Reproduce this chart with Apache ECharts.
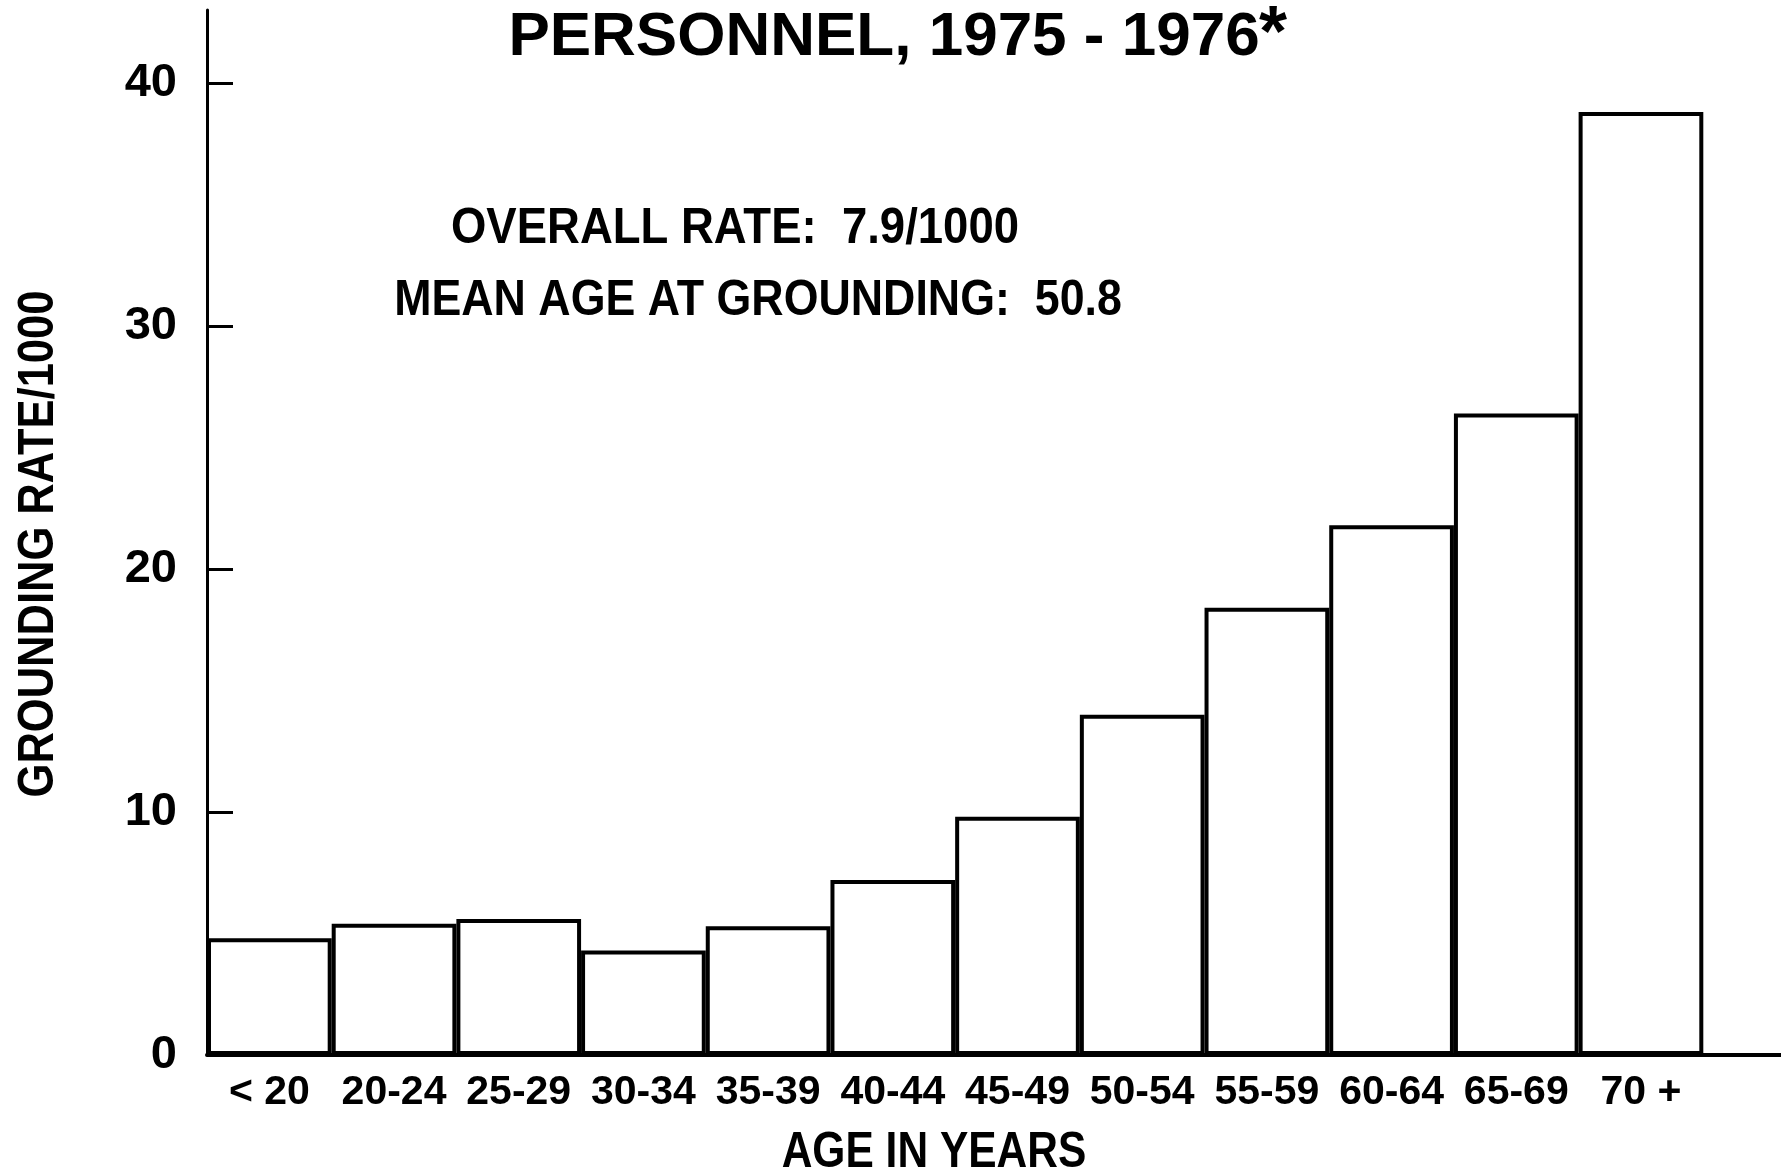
<!DOCTYPE html>
<html>
<head>
<meta charset="utf-8">
<script src="https://cdn.jsdelivr.net/npm/echarts@6/dist/echarts.min.js"></script>
<style>
html,body{margin:0;padding:0;background:#fff;}
#chart{width:1781px;height:1171px;}
</style>
</head>
<body>
<div id="chart"></div>
<script>
// ---- data ----
const ageGroups = ['< 20', '20-24', '25-29', '30-34', '35-39', '40-44', '45-49', '50-54', '55-59', '60-64', '65-69', '70 +', ''];
const groundingRate = [4.8, 5.4, 5.6, 4.3, 5.3, 7.2, 9.8, 14.0, 18.4, 21.8, 26.4, 38.8, null];
const yTickValues = [0, 10, 20, 30, 40];
const titleText = 'PERSONNEL, 1975 - 1976';
const noteLines = ['OVERALL RATE:  7.9/1000', 'MEAN AGE AT GROUNDING:  50.8'];
const xName = 'AGE IN YEARS';
const yName = 'GROUNDING RATE/1000';

const FONT = '"Liberation Sans", Arial, sans-serif';

const chart = echarts.init(document.getElementById('chart'), null, {renderer: 'canvas'});
chart.setOption({
  backgroundColor: '#fff',
  animation: false,
  grid: {left: 207, width: 1621, top: 10, bottom: 116, containLabel: false, outerBoundsMode: 'none'},
  xAxis: {
    type: 'category',
    data: ageGroups,
    boundaryGap: true,
    axisLine: {show: true, lineStyle: {color: '#000', width: 4}},
    axisTick: {show: false},
    axisLabel: {
      color: '#000', fontFamily: FONT, fontWeight: 'bold', fontSize: 41,
      margin: 17, interval: 0
    },
    splitLine: {show: false}
  },
  yAxis: {
    type: 'value',
    min: 0, max: 43, interval: 10,
    axisLine: {show: true, lineStyle: {color: '#000', width: 3}},
    axisTick: {show: true, inside: true, length: 26, customValues: yTickValues, lineStyle: {color: '#000', width: 3}},
    axisLabel: {
      color: '#000', fontFamily: FONT, fontWeight: 'bold', fontSize: 47,
      margin: 30, customValues: yTickValues
    },
    splitLine: {show: false}
  },
  graphic: [
    {type: 'text', x: 884, y: 38, style: {text: titleText, fill: '#000', font: 'bold 62px ' + FONT, textAlign: 'center', textVerticalAlign: 'middle'}},
    {type: 'text', x: 1273, y: 36, style: {text: '*', fill: '#000', font: 'bold 72px ' + FONT, textAlign: 'center', textVerticalAlign: 'middle'}},
    {type: 'text', x: 735, y: 229, scaleX: 0.91, style: {text: noteLines[0], fill: '#000', font: 'bold 50px ' + FONT, textAlign: 'center', textVerticalAlign: 'middle'}},
    {type: 'text', x: 758, y: 301, scaleX: 0.895, style: {text: noteLines[1], fill: '#000', font: 'bold 50px ' + FONT, textAlign: 'center', textVerticalAlign: 'middle'}},
    {type: 'text', x: 934, y: 1153, scaleX: 0.85, style: {text: xName, fill: '#000', font: 'bold 50px ' + FONT, textAlign: 'center', textVerticalAlign: 'middle'}},
    {type: 'text', x: 39, y: 544, rotation: Math.PI / 2, scaleX: 0.87, style: {text: yName, fill: '#000', font: 'bold 50px ' + FONT, textAlign: 'center', textVerticalAlign: 'middle'}}
  ],
  series: [{
    type: 'bar',
    data: groundingRate,
    barCategoryGap: '0%',
    itemStyle: {color: '#fff', borderColor: '#000', borderWidth: 4},
    emphasis: {disabled: true}
  }]
});
</script>
</body>
</html>
